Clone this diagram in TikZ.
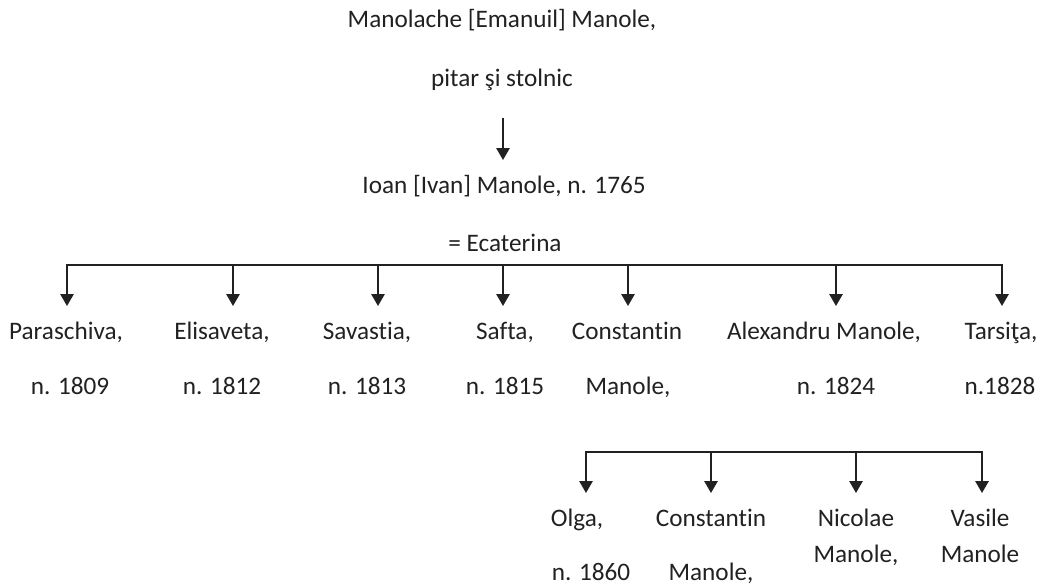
\documentclass[tikz,border=0pt]{standalone}
\usepackage{fontspec}
\setmainfont{Carlito}[Ligatures=NoCommon]
\usetikzlibrary{arrows.meta,calc}
\begin{document}
\begin{tikzpicture}[x=0.75pt,y=-0.75pt,
  lbl/.style={anchor=base, inner sep=0pt, font=\fontsize{18.9}{22}\selectfont, text=black!87},
  arr/.style={line width=1.4pt, draw=black!87, -{Triangle[width=10pt,length=9pt]}},
  bus/.style={line width=1.4pt, draw=black!87}]
\useasboundingbox (0,0) rectangle (1046,587);
% top
\node[lbl] (m1) at (502,27) {Manolache [Emanuil] Manole,};
\node[lbl] (m2) at (502,86) {pitar şi stolnic};
\node[lbl] (i1) at (504,193) {Ioan [Ivan] Manole, n. 1765};
\node[lbl] (i2) at (505,251) {= Ecaterina};
\coordinate (a0) at (503,118);
\coordinate (a1) at (503,160);
\draw[arr] (a0) -- (a1);
% bus 1
\coordinate (b1) at (67,265);
\coordinate (b2) at (233,265);
\coordinate (b3) at (378,265);
\coordinate (b4) at (503,265);
\coordinate (b5) at (628,265);
\coordinate (b6) at (836,265);
\coordinate (b7) at (1002,265);
\draw[bus] (b1) -- (b7);
\foreach \i in {1,...,7}{\coordinate (t\i) at ($(b\i)+(0,41)$);}
\foreach \i in {1,...,7}{\draw[arr] ($(b\i)+(0,-0.9)$) -- (t\i);}
% children row
\node[lbl] (c1) at (66,339) {Paraschiva,};
\node[lbl] (c2) at (222,339) {Elisaveta,};
\node[lbl] (c3) at (367,339) {Savastia,};
\node[lbl] (c4) at (505,339) {Safta,};
\node[lbl] (c5) at (627,339) {Constantin};
\node[lbl] (c6) at (824,339) {Alexandru Manole,};
\node[lbl] (c7) at (1001,339) {Tarsiţa,};
\node[lbl] (d1) at (70,394) {n. 1809};
\node[lbl] (d2) at (222,394) {n. 1812};
\node[lbl] (d3) at (367,394) {n. 1813};
\node[lbl] (d4) at (505,394) {n. 1815};
\node[lbl] (d5) at (628,394) {Manole,};
\node[lbl] (d6) at (836,394) {n. 1824};
\node[lbl] (d7) at (1000,394) {n.1828};
% bus 2
\coordinate (e1) at (586,452);
\coordinate (e2) at (711,452);
\coordinate (e3) at (856,452);
\coordinate (e4) at (982,452);
\draw[bus] (e1) -- (e4);
\foreach \i in {1,...,4}{\coordinate (u\i) at ($(e\i)+(0,41)$);}
\foreach \i in {1,...,4}{\draw[arr] ($(e\i)+(0,-0.9)$) -- (u\i);}
\node[lbl] (g1) at (577,526) {Olga,};
\node[lbl] (g2) at (711,526) {Constantin};
\node[lbl] (g3) at (856,526) {Nicolae};
\node[lbl] (g4) at (980,526) {Vasile};
\node[lbl] (h3) at (856,562) {Manole,};
\node[lbl] (h4) at (980,562) {Manole};
\node[lbl] (k1) at (591,580) {n. 1860};
\node[lbl] (k2) at (711,580) {Manole,};
\end{tikzpicture}
\end{document}
